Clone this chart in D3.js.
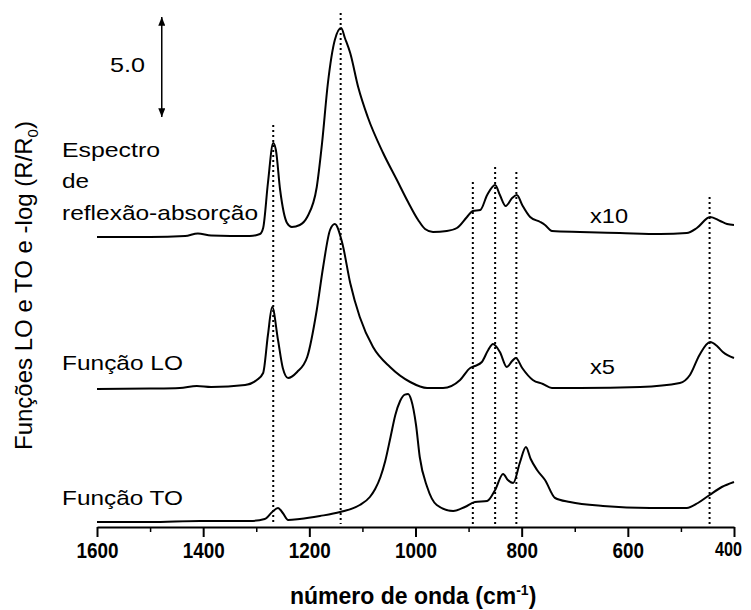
<!DOCTYPE html>
<html>
<head>
<meta charset="utf-8">
<script src="https://cdn.jsdelivr.net/npm/d3@7"></script>
<style>
  body { margin: 0; background: #fff; }
  svg { display: block; font-family: "Liberation Sans", Arial, sans-serif; }
</style>
</head>
<body>
<div id="chart"></div>
<script>
"use strict";

// ---- data (wavenumber in cm-1, offset intensity) ----
// reflection-absorption spectrum (x10)
const wnRA = [1600, 1500, 1434, 1410, 1385, 1312, 1293, 1287, 1278, 1268, 1263, 1255, 1242, 1233, 1218,
  1204, 1186, 1176, 1165, 1152, 1140, 1133, 1123, 1108, 1090, 1061, 1035, 1014, 995, 982,
  967, 941, 922, 903, 892, 878, 865, 850, 841, 830, 818, 809, 799, 784, 765,
  756, 743, 690, 615, 539, 489, 470, 445, 426, 413, 400];
const ra = [14.5, 14.5, 14.55, 14.68, 14.58, 14.55, 14.65, 14.95, 17.2, 19.2, 18.85, 16.85, 15.2, 15.0, 15.1,
  15.5, 17.0, 19.2, 22.2, 24.35, 24.95, 24.45, 23.7, 22.0, 20.5, 18.7, 17.35, 16.25, 15.35, 14.9,
  14.75, 14.8, 14.95, 15.5, 15.8, 15.85, 16.6, 17.1, 16.6, 16.05, 16.45, 16.6, 16.1, 15.5, 15.25,
  15.1, 14.8, 14.75, 14.7, 14.65, 14.7, 14.95, 15.5, 15.3, 15.15, 15.1];

// LO function (x5)
const wnLO = [1600, 1500, 1444, 1412, 1385, 1321, 1299, 1287, 1278, 1270, 1259, 1250, 1240, 1223, 1204,
  1186, 1174, 1161, 1152, 1138, 1123, 1105, 1080, 1048, 1010, 978, 948, 916, 897, 888,
  875, 863, 854, 841, 828, 818, 811, 799, 779, 760, 743, 690, 577, 502, 483,
  465, 445, 432, 421, 400];
const lo = [6.9, 6.92, 6.95, 7.05, 7.0, 7.1, 7.35, 7.7, 9.6, 11.0, 9.35, 7.95, 7.45, 7.75, 8.5,
  10.85, 13.0, 14.85, 15.15, 14.2, 12.2, 10.5, 9.0, 8.0, 7.25, 6.95, 6.95, 7.35, 7.95, 8.05,
  8.25, 8.85, 9.15, 8.75, 8.0, 8.3, 8.45, 7.95, 7.35, 7.15, 6.95, 6.95, 7.0, 7.2, 7.6,
  8.6, 9.25, 9.05, 8.75, 8.45];

// TO function
const wnTO = [1600, 1500, 1406, 1312, 1284, 1270, 1259, 1250, 1240, 1218, 1180, 1142, 1105, 1086, 1076,
  1066, 1057, 1047, 1038, 1029, 1020, 1014, 1008, 999, 992, 978, 960, 929, 907, 888,
  865, 850, 835, 826, 816, 803, 792, 783, 771, 756, 737, 709, 647, 558, 489,
  468, 446, 423, 400];
const to = [0.25, 0.25, 0.3, 0.3, 0.4, 0.75, 0.95, 0.7, 0.35, 0.4, 0.55, 0.75, 1.1, 1.5, 1.9,
  2.5, 3.3, 4.5, 5.6, 6.3, 6.62, 6.65, 6.35, 5.1, 3.5, 2.0, 1.1, 0.8, 1.0, 1.25,
  1.3, 1.85, 2.65, 2.35, 2.2, 3.25, 4.0, 3.4, 2.85, 2.35, 1.45, 1.25, 1.05, 0.95, 0.95,
  1.2, 1.6, 2.0, 2.25];

// dotted guide lines at the band positions
const peakLines = [1268, 1141, 892, 850, 810, 446];
const peakTops = [20.1, 25.7, 17.25, 18.0, 17.75, 16.5];

const xTicks = [1600, 1400, 1200, 1000, 800, 600, 400];
const xMinor = [1500, 1300, 1100, 900, 700, 500];

// scale bar: 5.0 units
const barWn = 1478;
const barEnds = [25.5, 20.5];
const barLabel = "5.0";

const labelRA = ["Espectro", "de", "reflexão-absorção"];
const labelLO = "Função LO";
const labelTO = "Função TO";
const factors = ["x10", "x5"];

// ---- chart ----
const width = 751, height = 610;

const svg = d3.select("#chart").append("svg")
  .attr("width", width)
  .attr("height", height);

const x = d3.scaleLinear().domain([1600, 400]).range([97, 734]);
const y = d3.scaleLinear().domain([0, 26]).range([527, 7]);

// dotted lines first so the spectra sit on top
svg.append("g")
  .selectAll("line")
  .data(peakLines)
  .join("line")
  .attr("x1", d => x(d))
  .attr("x2", d => x(d))
  .attr("y1", (d, i) => y(peakTops[i]))
  .attr("y2", y(0.15))
  .attr("stroke", "#000")
  .attr("stroke-width", 2)
  .attr("stroke-dasharray", "2,3");

const line = d3.line()
  .x(d => x(d[0]))
  .y(d => y(d[1]))
  .curve(d3.curveMonotoneX);

[[wnRA, ra], [wnLO, lo], [wnTO, to]].forEach(function (s) {
  svg.append("path")
    .datum(d3.zip(s[0], s[1]))
    .attr("fill", "none")
    .attr("stroke", "#000")
    .attr("stroke-width", 2)
    .attr("stroke-linejoin", "round")
    .attr("d", line);
});

// bottom axis
const axisG = svg.append("g")
  .attr("transform", "translate(0," + y(0) + ")")
  .call(d3.axisBottom(x)
    .tickValues(xTicks)
    .tickSize(10)
    .tickSizeOuter(0)
    .tickPadding(5)
    .tickFormat(d3.format("d")));
axisG.select(".domain").attr("stroke-width", 2);
axisG.selectAll(".tick line").attr("stroke-width", 2);
axisG.selectAll(".tick text")
  .attr("fill", "#000")
  .style("font-family", "'Liberation Sans', Arial, sans-serif")
  .style("font-size", "22px")
  .style("font-weight", "bold")
  .attr("textLength", d => String(d).length * 10.5)
  .attr("lengthAdjust", "spacingAndGlyphs");
// keep the last label inside the window
axisG.selectAll(".tick text").filter(d => d === 400)
  .style("font-size", "20px")
  .attr("textLength", 27)
  .attr("dx", -6);

const minorG = svg.append("g")
  .attr("transform", "translate(0," + y(0) + ")")
  .call(d3.axisBottom(x).tickValues(xMinor).tickSize(5).tickFormat(""));
minorG.select(".domain").remove();
minorG.selectAll(".tick line").attr("stroke-width", 1.5);

// axis titles
const xTitle = svg.append("text")
  .attr("x", 290)
  .attr("y", 604)
  .style("font-size", "23px")
  .style("font-weight", "bold")
  .text("número de onda (cm");
xTitle.append("tspan").attr("dy", -9).style("font-size", "14px").text("-1");
xTitle.append("tspan").attr("dy", 9).text(")");

const yTitle = svg.append("text")
  .attr("transform", "translate(32,450) rotate(-90)")
  .style("font-size", "24px")
  .text("Funções LO e TO e -log (R/R");
yTitle.append("tspan").attr("dy", 6).style("font-size", "15px").text("0");
yTitle.append("tspan").attr("dy", -6).text(")");

// scale bar
const defs = svg.append("defs");
defs.append("marker")
  .attr("id", "head")
  .attr("viewBox", "0 0 10 8")
  .attr("refX", 10)
  .attr("refY", 4)
  .attr("markerWidth", 10)
  .attr("markerHeight", 7)
  .attr("markerUnits", "userSpaceOnUse")
  .attr("orient", "auto-start-reverse")
  .append("path")
  .attr("d", "M0,0 L10,4 L0,8 Z")
  .attr("fill", "#000");

svg.append("line")
  .attr("x1", x(barWn)).attr("x2", x(barWn))
  .attr("y1", y(barEnds[0])).attr("y2", y(barEnds[1]))
  .attr("stroke", "#000")
  .attr("stroke-width", 1.5)
  .attr("marker-start", "url(#head)")
  .attr("marker-end", "url(#head)");

svg.append("text")
  .attr("x", 110).attr("y", 72)
  .style("font-size", "21px")
  .attr("textLength", 35).attr("lengthAdjust", "spacingAndGlyphs")
  .text(barLabel);

// spectrum labels
const raWidths = [98, 27, 196];
const raBase = [157, 188, 220];
labelRA.forEach(function (t, i) {
  svg.append("text")
    .attr("x", 62).attr("y", raBase[i])
    .style("font-size", "21px")
    .attr("textLength", raWidths[i]).attr("lengthAdjust", "spacingAndGlyphs")
    .text(t);
});

svg.append("text")
  .attr("x", 62).attr("y", 370)
  .style("font-size", "21px")
  .attr("textLength", 121).attr("lengthAdjust", "spacingAndGlyphs")
  .text(labelLO);

svg.append("text")
  .attr("x", 62).attr("y", 505)
  .style("font-size", "21px")
  .attr("textLength", 121).attr("lengthAdjust", "spacingAndGlyphs")
  .text(labelTO);

svg.append("text")
  .attr("x", 590).attr("y", 223)
  .style("font-size", "21px")
  .attr("textLength", 38).attr("lengthAdjust", "spacingAndGlyphs")
  .text(factors[0]);

svg.append("text")
  .attr("x", 590).attr("y", 374)
  .style("font-size", "21px")
  .attr("textLength", 25).attr("lengthAdjust", "spacingAndGlyphs")
  .text(factors[1]);
</script>
</body>
</html>
